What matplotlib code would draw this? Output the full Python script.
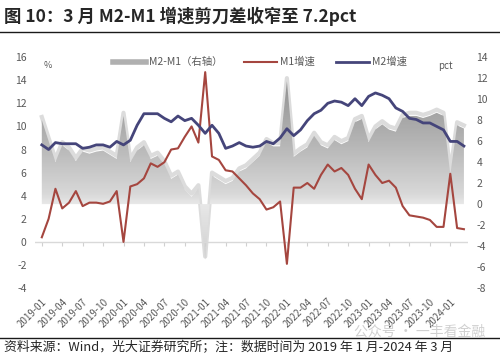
import numpy as np
import matplotlib
matplotlib.use("Agg")
import matplotlib.pyplot as plt
from matplotlib.colors import LinearSegmentedColormap, Normalize
from matplotlib.lines import Line2D

plt.rcParams['font.family'] = ['Noto Sans CJK SC', 'DejaVu Sans']
plt.rcParams['axes.unicode_minus'] = False

# monthly data, 2019-01 .. 2024-03
months = [f"{y}-{m:02d}" for y in range(2019, 2025) for m in range(1, 13)][:63]
m1 = [0.4, 2.0, 4.6, 2.9, 3.4, 4.4, 3.1, 3.4, 3.4, 3.3, 3.5, 4.4,
      0.0, 4.8, 5.0, 5.5, 6.8, 6.5, 6.9, 8.0, 8.1, 9.1, 10.0, 8.6,
      14.7, 7.4, 7.1, 6.2, 6.1, 5.5, 4.9, 4.2, 3.7, 2.8, 3.0, 3.5,
      -1.9, 4.7, 4.7, 5.1, 4.6, 5.8, 6.7, 6.1, 6.4, 5.8, 4.6, 3.7,
      6.7, 5.8, 5.1, 5.3, 4.7, 3.1, 2.3, 2.2, 2.1, 1.9, 1.3, 1.3,
      5.9, 1.2, 1.1]
m2 = [8.4, 8.0, 8.6, 8.5, 8.5, 8.5, 8.1, 8.2, 8.4, 8.4, 8.2, 8.7,
      8.4, 8.8, 10.1, 11.1, 11.1, 11.1, 10.7, 10.4, 10.9, 10.5, 10.7, 10.1,
      9.4, 10.1, 9.4, 8.1, 8.3, 8.6, 8.3, 8.2, 8.3, 8.7, 8.5, 9.0,
      9.8, 9.2, 9.7, 10.5, 11.1, 11.4, 12.0, 12.2, 12.1, 11.8, 12.4, 11.8,
      12.6, 12.9, 12.7, 12.4, 11.6, 11.3, 10.7, 10.6, 10.3, 10.3, 10.0, 9.7,
      8.7, 8.7, 8.3]
gap = np.round(np.array(m2) - np.array(m1), 1)   # M2-M1, right axis
x = np.arange(len(months))
tick_idx = x[::3][:21]
tick_labels = [months[i] for i in tick_idx]

fig = plt.figure(figsize=(5, 3.57), dpi=100)
ax = fig.add_axes([0.07, 0.193, 0.866, 0.647])
ax2 = ax.twinx()
ax.set_zorder(ax2.get_zorder() + 1)
ax.patch.set_visible(False)

xlim = (-1.0, 62.6)

# gradient area for M2-M1 on the right axis
ax2.plot(x, gap + 0.3, color='#dcdcdc', lw=3, zorder=1, solid_joinstyle='round')
poly = ax2.fill_between(x, gap, 0, facecolor='none', edgecolor='none')
cmap = LinearSegmentedColormap.from_list(
    'g', [(0.0, '#c4c4c4'), (8 / 22, '#e8e8e8'), (9 / 22, '#d8d8d8'),
          (14 / 22, '#b4b4b4'), (1.0, '#848484')])
yy = np.linspace(-8, 14, 300).reshape(-1, 1)
img = ax2.imshow(yy, cmap=cmap, norm=Normalize(-8, 14), origin='lower',
                 extent=[xlim[0], xlim[1], -8, 14], aspect='auto', zorder=2)
img.set_clip_path(poly.get_paths()[0], transform=ax2.transData)

# lines on the left axis
ax.axhline(0, color='#d9d9d9', lw=1, zorder=1)
ax.plot(x, m1, color='#a5463f', lw=1.5, zorder=3)
ax.plot(x, m2, color='#45457a', lw=2.0, zorder=3)

ax.set_xlim(*xlim)
ax2.set_xlim(*xlim)
ax.set_ylim(-4, 16)
ax2.set_ylim(-8, 14)
ax.set_yticks(np.arange(-4, 17, 2))
ax2.set_yticks(np.arange(-8, 15, 2))

for a in (ax, ax2):
    for s in a.spines.values():
        s.set_visible(False)
    a.tick_params(axis='y', length=0, labelsize=7.5, labelcolor='#595959', pad=6)

ax.set_xticks(tick_idx)
ax.set_xticklabels(tick_labels, rotation=45, ha='right', rotation_mode='anchor')
ax.tick_params(axis='x', length=0, labelsize=7, labelcolor='#595959', pad=6)
ax2.tick_params(axis='x', length=0, labelbottom=False)

sec = ax.secondary_xaxis(0.2)
sec.set_xticks(tick_idx)
sec.set_xticklabels([])
sec.tick_params(length=3, color='#d0d0d0', width=0.8)
sec.spines['bottom'].set_visible(False)

ax.text(0.02, 0.965, '%', transform=ax.transAxes, fontsize=6.5, color='#595959', va='center')
ax.text(0.965, 0.96, 'pct', transform=ax.transAxes, fontsize=7, color='#595959',
        va='center', ha='right')

handles = [Line2D([], [], color='#b0b0b0', lw=4),
           Line2D([], [], color='#a5463f', lw=1.5),
           Line2D([], [], color='#45457a', lw=2.0)]
fig.legend(handles, ['M2-M1（右轴）', 'M1增速', 'M2增速'], loc='center',
           bbox_to_anchor=(0.52, 0.826), ncol=3, frameon=False, fontsize=7.5,
           labelcolor='#595959', handlelength=3.2, columnspacing=2.0, handletextpad=0.3)

# title, rules, footnote
fig.text(0.008, 0.955, '图 10：3 月 M2-M1 增速剪刀差收窄至 7.2pct', fontsize=12.5,
         fontweight='bold', color='#262626', va='center')
fig.add_artist(Line2D([0, 1], [0.91, 0.91], color='#1a1a1a', lw=1))
fig.add_artist(Line2D([0, 1], [0.053, 0.053], color='#1a1a1a', lw=1))
fig.text(0.008, 0.025, '资料来源：Wind，光大证券研究所；注：数据时间为 2019 年 1 月-2024 年 3 月',
         fontsize=9.3, color='#262626', va='center')
fig.text(0.97, 0.07, '公众号 · 一丰看金融', fontsize=10, color='#d0d0d0', ha='right', va='center')

fig.savefig('out.png', dpi=100)
